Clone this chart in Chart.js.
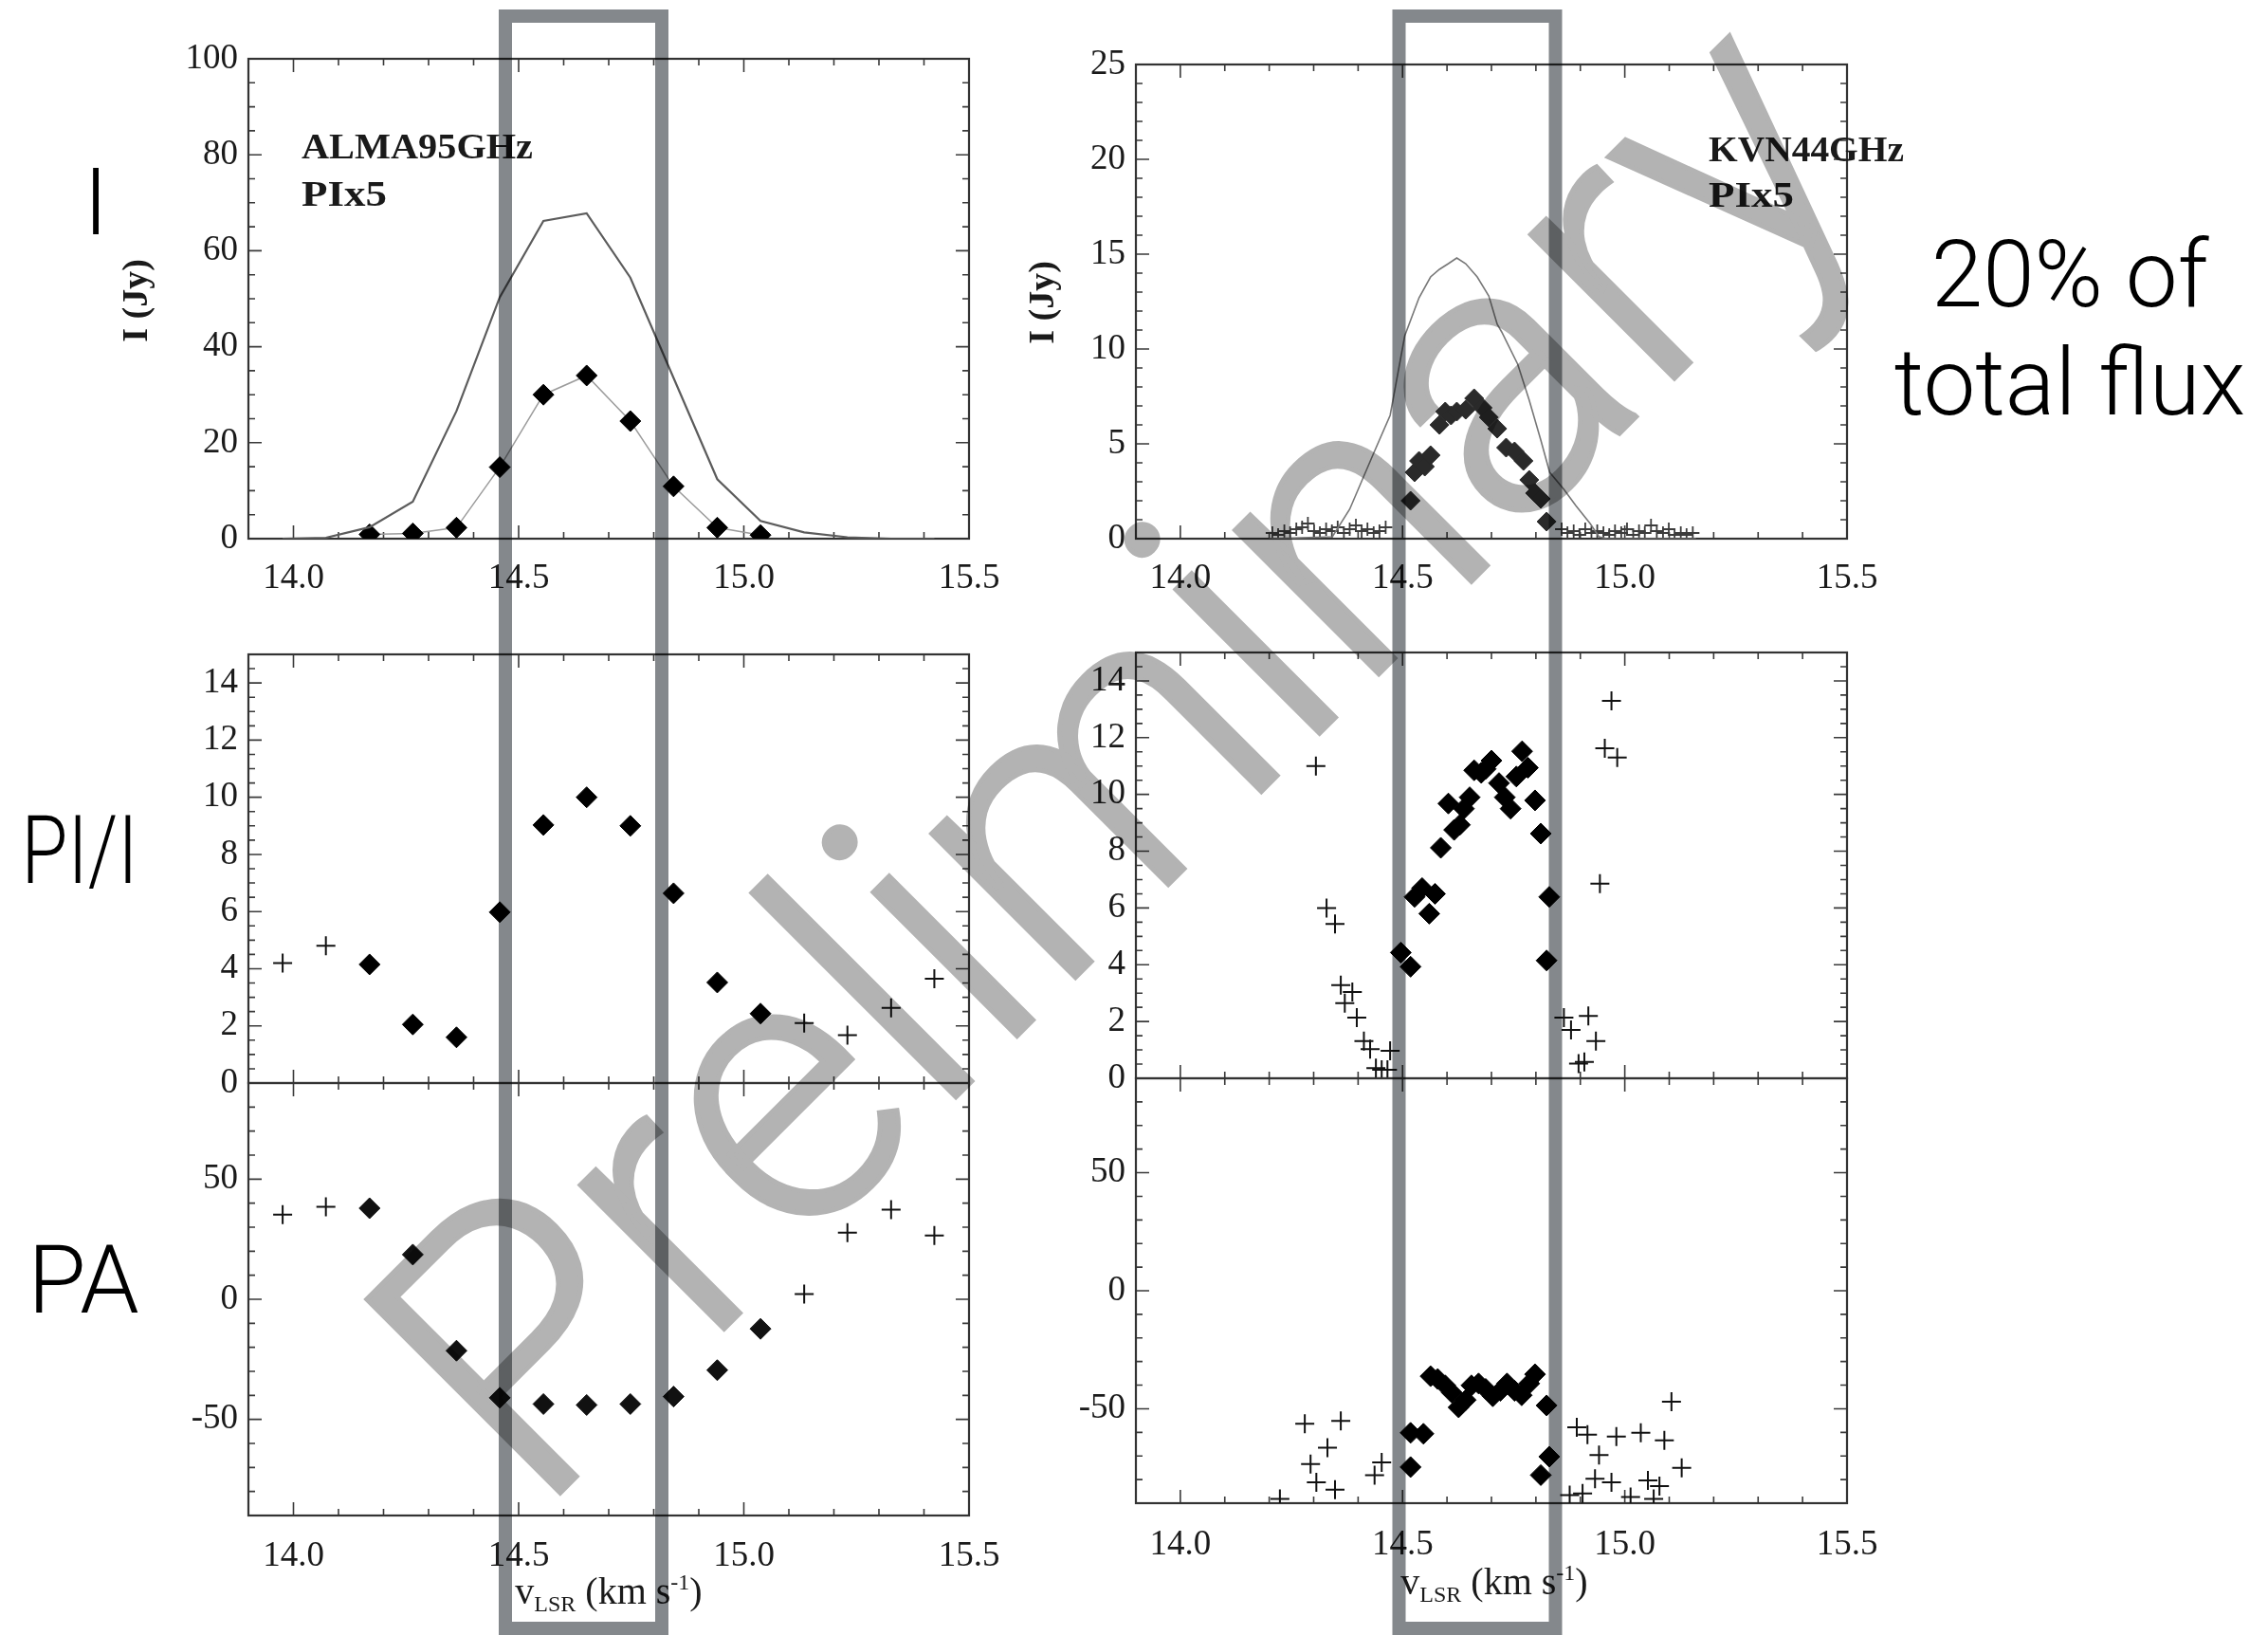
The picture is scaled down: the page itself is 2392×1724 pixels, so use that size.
<!DOCTYPE html>
<html><head><meta charset="utf-8">
<script src="https://cdn.jsdelivr.net/npm/chart.js@4.4.1/dist/chart.umd.min.js"></script>
<style>
html,body{margin:0;padding:0;background:#fff;}
#stage{position:relative;width:2392px;height:1724px;background:#fff;overflow:hidden;isolation:isolate;}
canvas{position:absolute;}
svg.layer{position:absolute;left:0;top:0;}
.blend{mix-blend-mode:multiply;}
</style></head><body>
<div id="stage">
<canvas id="cTL"></canvas>
<canvas id="cTR"></canvas>
<canvas id="cML"></canvas>
<canvas id="cBL"></canvas>
<canvas id="cMR"></canvas>
<canvas id="cBR"></canvas>
<svg class="layer" width="2392" height="1724" font-family="Liberation Serif">
  <text x="101" y="247" text-anchor="middle" font-family="Roboto" font-weight="300" font-size="98">I</text>
  <text x="84" y="931" text-anchor="middle" font-family="Roboto" font-weight="300" font-size="100" textLength="123" lengthAdjust="spacingAndGlyphs">PI/I</text>
  <text x="88" y="1384" text-anchor="middle" font-family="Roboto" font-weight="300" font-size="100">PA</text>
  <text x="2183" y="323" text-anchor="middle" font-family="Roboto" font-weight="300" font-size="98">20% of</text>
  <text x="2183" y="437" text-anchor="middle" font-family="Roboto" font-weight="300" font-size="98">total flux</text>
  <text x="318" y="167" font-weight="bold" font-size="37" fill="#1a1a1a" textLength="244" lengthAdjust="spacingAndGlyphs">ALMA95GHz</text>
  <text x="318" y="217" font-weight="bold" font-size="37" fill="#1a1a1a" textLength="90" lengthAdjust="spacingAndGlyphs">PIx5</text>
  <text x="1802" y="170" font-weight="bold" font-size="37" fill="#1a1a1a" textLength="206" lengthAdjust="spacingAndGlyphs">KVN44GHz</text>
  <text x="1802" y="218" font-weight="bold" font-size="37" fill="#1a1a1a" textLength="90" lengthAdjust="spacingAndGlyphs">PIx5</text>
  <text transform="translate(155,317) rotate(-90)" text-anchor="middle" font-weight="bold" font-size="38" fill="#1a1a1a">I (Jy)</text>
  <text transform="translate(1111,319) rotate(-90)" text-anchor="middle" font-weight="bold" font-size="38" fill="#1a1a1a">I (Jy)</text>
  <text x="642" y="1691" text-anchor="middle" font-size="40" fill="#1a1a1a">v<tspan font-size="24" dy="8">LSR</tspan><tspan dy="-8"> (km s</tspan><tspan font-size="24" dy="-15">-1</tspan><tspan dy="15">)</tspan></text>
  <text x="1576" y="1681" text-anchor="middle" font-size="40" fill="#1a1a1a">v<tspan font-size="24" dy="8">LSR</tspan><tspan dy="-8"> (km s</tspan><tspan font-size="24" dy="-15">-1</tspan><tspan dy="15">)</tspan></text>
</svg>
<svg class="layer blend" width="2392" height="1724">
  <text x="565" y="1600" transform="rotate(-45 565 1600)" font-family="Roboto" font-weight="300" font-size="406" fill="#b3b3b3" stroke="#b3b3b3" stroke-width="5" stroke-linejoin="miter">Preliminary</text>
</svg>
<svg class="layer blend" width="2392" height="1724">
  <rect x="533" y="17" width="165" height="1700" fill="none" stroke="#84888c" stroke-width="14"/>
  <rect x="1475.5" y="17" width="165" height="1700" fill="none" stroke="#84888c" stroke-width="14"/>
</svg>
</div>
<script>
// ---------- tick labels ----------
const xTickValues = [14.0, 14.5, 15.0, 15.5];
const xTickLabels = ['14.0', '14.5', '15.0', '15.5'];
const yTicksI95 = [0, 20, 40, 60, 80, 100];
const yTicksI44 = [0, 5, 10, 15, 20, 25];
const yTicksFrac = [0, 2, 4, 6, 8, 10, 12, 14];
const yTicksPA = [-50, 0, 50];

// ---------- ALMA 95 GHz ----------
const almaV = [13.976, 14.072, 14.169, 14.265, 14.362, 14.458, 14.555, 14.651, 14.748, 14.844, 14.941, 15.037, 15.134, 15.230, 15.327, 15.423];
const almaI = [0.0, 0.2, 2.4, 7.7, 26.6, 50.3, 66.2, 67.8, 54.4, 33.5, 12.4, 3.7, 1.3, 0.3, 0.0, 0.0];
const almaPolV = [14.169, 14.265, 14.362, 14.458, 14.555, 14.651, 14.748, 14.844, 14.941, 15.037];
const almaPIx5 = [0.9, 1.1, 2.3, 14.9, 30.0, 34.0, 24.5, 10.9, 2.3, 0.75];
const almaFracDiamond = [4.15, 2.05, 1.6, 5.98, 9.03, 10.0, 9.0, 6.64, 3.52, 2.43];
const almaPADiamond = [37.9, 18.6, -21.4, -41.0, -43.6, -44.0, -43.6, -40.5, -29.5, -12.3];
const almaLowV = [13.976, 14.072, 15.134, 15.230, 15.327, 15.423];
const almaFracCross = [4.2, 4.8, 2.1, 1.68, 2.63, 3.65];
const almaPACross = [35.2, 38.5, 2.2, 27.7, 37.3, 26.5];

// ---------- KVN 44 GHz ----------
const kvnIV = [14.20, 14.342, 14.381, 14.433, 14.472, 14.505, 14.537, 14.563, 14.583, 14.603, 14.622, 14.642, 14.668, 14.694, 14.713, 14.723, 14.759, 14.785, 14.811, 14.831, 14.863, 14.890, 14.922, 14.942, 14.960, 15.160];
const kvnI = [0.0, 0.1, 1.55, 4.4, 6.5, 10.7, 12.7, 13.8, 14.2, 14.5, 14.8, 14.5, 13.8, 12.8, 11.3, 10.9, 9.2, 7.3, 5.2, 3.5, 2.6, 1.74, 0.8, 0.1, 0.0, 0.0];
const kvnPIx5V = [14.518, 14.527, 14.537, 14.550, 14.563, 14.583, 14.596, 14.609, 14.622, 14.642, 14.661, 14.680, 14.694, 14.713, 14.733, 14.752, 14.772, 14.785, 14.798, 14.811, 14.824];
const kvnPIx5 = [2.0, 3.5, 4.1, 3.8, 4.4, 6.0, 6.7, 6.5, 6.7, 6.8, 7.4, 6.9, 6.4, 5.8, 4.8, 4.6, 4.1, 3.1, 2.4, 2.1, 0.9];
const kvnNoiseV = [14.207, 14.220, 14.234, 14.247, 14.261, 14.274, 14.287, 14.301, 14.314, 14.328, 14.341, 14.354, 14.368, 14.381, 14.395, 14.408, 14.421, 14.435, 14.448, 14.462,
                   14.858, 14.871, 14.885, 14.898, 14.911, 14.925, 14.938, 14.952, 14.965, 14.978, 14.992, 15.005, 15.019, 15.032, 15.045, 15.059, 15.072, 15.086, 15.099, 15.112, 15.126, 15.139, 15.153];
const kvnNoisePIx5 = [0.3, 0.2, 0.4, 0.3, 0.5, 0.6, 0.8, 0.4, 0.3, 0.5, 0.4, 0.6, 0.3, 0.5, 0.7, 0.4, 0.5, 0.3, 0.4, 0.6,
                      0.5, 0.3, 0.4, 0.2, 0.5, 0.3, 0.4, 0.3, 0.2, 0.4, 0.3, 0.5, 0.2, 0.4, 0.3, 0.7, 0.4, 0.3, 0.5, 0.2, 0.3, 0.2, 0.3];
const kvnFracDiamondV = [14.496, 14.518, 14.527, 14.544, 14.560, 14.573, 14.586, 14.603, 14.616, 14.629, 14.638, 14.651, 14.661, 14.677, 14.687, 14.700, 14.717, 14.730, 14.743, 14.756, 14.769, 14.782, 14.798, 14.811, 14.824, 14.830];
const kvnFracDiamond = [4.43, 3.93, 6.39, 6.7, 5.8, 6.5, 8.12, 9.68, 8.75, 8.93, 9.5, 9.9, 10.85, 10.76, 10.9, 11.19, 10.4, 9.9, 9.5, 10.63, 11.52, 10.94, 9.79, 8.62, 4.15, 6.39];
const kvnFracCrossV = [14.305, 14.329, 14.348, 14.361, 14.370, 14.387, 14.397, 14.413, 14.427, 14.440, 14.453, 14.466, 14.472, 14.863, 14.879, 14.896, 14.909, 14.918, 14.935, 14.944, 14.955, 14.970, 14.983];
const kvnFracCross = [11.0, 6.0, 5.44, 3.28, 2.65, 3.04, 2.14, 1.31, 1.03, 0.36, 0.3, 0.3, 0.97, 2.14, 1.7, 0.52, 0.58, 2.2, 1.31, 6.86, 11.63, 13.3, 11.3];
const kvnPADiamondV = [14.518, 14.547, 14.518, 14.563, 14.579, 14.596, 14.611, 14.626, 14.642, 14.655, 14.671, 14.687, 14.703, 14.720, 14.735, 14.752, 14.768, 14.785, 14.798, 14.811, 14.824, 14.830];
const kvnPADiamond = [-60.2, -60.6, -74.7, -36.2, -37.4, -40.1, -43.2, -49.4, -46.3, -40.1, -39.3, -41.6, -44.7, -42.4, -39.3, -42.4, -44.3, -39.3, -35.4, -78.1, -48.6, -70.3];
const kvnPACrossV = [14.224, 14.280, 14.293, 14.306, 14.331, 14.348, 14.361, 14.437, 14.453, 14.876, 14.892, 14.905, 14.916, 14.933, 14.942, 14.970, 14.981, 15.013, 15.036, 15.052, 15.065, 15.078, 15.089, 15.105, 15.128];
const kvnPACross = [-88.2, -56.4, -73.4, -81.2, -66.5, -84.3, -55.1, -78.1, -72.7, -86.6, -57.9, -85.9, -61.0, -79.7, -69.6, -81.2, -61.8, -87.4, -60.2, -80.4, -88.2, -82.8, -63.4, -47.0, -75.0];

// ---------- helpers ----------
const zip = (xs, ys) => xs.map((v, i) => ({x: v, y: ys[i]}));
const tickFont = {family: 'Liberation Serif', size: 37};
const tickColor = '#1a1a1a';

const idlBox = {
  id: 'idlBox',
  beforeDatasetsDraw(chart, args, o) {
    const {ctx, chartArea: a} = chart;
    const xs = chart.scales.x, ys = chart.scales.y;
    ctx.save();
    ctx.strokeStyle = '#3a3a3a';
    ctx.lineWidth = 1.6;
    ctx.beginPath();
    const steps = (min, max, step) => {
      const out = [];
      for (let k = Math.ceil(min / step - 1e-6); k * step <= max + 1e-6; k++) out.push(k * step);
      return out;
    };
    const xTick = (v, len) => {
      const p = xs.getPixelForValue(v);
      ctx.moveTo(p, a.bottom); ctx.lineTo(p, a.bottom - len);
      ctx.moveTo(p, a.top); ctx.lineTo(p, a.top + len);
    };
    const yTick = (v, len) => {
      const p = ys.getPixelForValue(v);
      ctx.moveTo(a.left, p); ctx.lineTo(a.left + len, p);
      ctx.moveTo(a.right, p); ctx.lineTo(a.right - len, p);
    };
    steps(xs.min, xs.max, 0.1).forEach(v => xTick(v, 7));
    xTickValues.forEach(v => xTick(v, 14));
    steps(ys.min, ys.max, o.yMinor).forEach(v => yTick(v, 7));
    o.yMajor.forEach(v => yTick(v, 14));
    ctx.stroke();
    ctx.lineWidth = 2.2;
    ctx.strokeStyle = '#333';
    ctx.strokeRect(a.left, a.top, a.right - a.left, a.bottom - a.top);
    ctx.restore();
  }
};

function makePanel(id, area, p) {
  const cv = document.getElementById(id);
  const padL = 40, yW = 120, padT = 40, padR = 60, padB = 90, xH = 80;
  const left = area.L - padL - yW, top = area.T - padT;
  const w = (area.R - area.L) + padL + yW + padR;
  const h = (area.B - area.T) + padT + padB;
  cv.style.left = left + 'px'; cv.style.top = top + 'px';
  cv.width = w; cv.height = h;
  cv.style.width = w + 'px'; cv.style.height = h + 'px';
  return new Chart(cv, {
    type: 'scatter',
    data: {datasets: p.datasets},
    plugins: [idlBox],
    options: {
      responsive: false, animation: false, devicePixelRatio: 1,
      layout: {padding: {left: padL, top: padT, right: padR, bottom: p.showX ? padB - xH : padB}},
      plugins: {legend: {display: false}, tooltip: {enabled: false}, idlBox: {yMinor: p.yMinor, yMajor: p.yTicks}},
      scales: {
        x: {
          type: 'linear', min: 13.9, max: 15.5, display: p.showX,
          grid: {display: false, drawTicks: false}, border: {display: false},
          afterBuildTicks: s => { s.ticks = xTickValues.map(v => ({value: v})); },
          afterFit: s => { if (p.showX) s.height = xH; },
          ticks: {autoSkip: false, maxRotation: 0, minRotation: 0, padding: p.xPad || 20, font: tickFont, color: tickColor,
                  callback: (v, i) => xTickLabels[i]}
        },
        y: {
          type: 'linear', min: p.ymin, max: p.ymax,
          grid: {display: false, drawTicks: false}, border: {display: false},
          afterBuildTicks: s => { s.ticks = p.yTicks.map(v => ({value: v})); },
          afterFit: s => { s.width = yW; },
          ticks: {autoSkip: false, padding: 11, font: tickFont, color: tickColor,
                  callback: (v, i) => String(p.yTicks[i])}
        }
      }
    }
  });
}

const lineDS = (data, color, width) => ({data, showLine: true, borderColor: color, borderWidth: width, pointRadius: 0, tension: 0});
const diamondDS = (data, color, r) => ({data, showLine: false, pointStyle: 'rectRot', pointRadius: r, pointBackgroundColor: color, pointBorderColor: color, pointBorderWidth: 1});
const crossDS = (data, color, r, w) => ({data, showLine: false, pointStyle: 'cross', pointRadius: r, pointBorderColor: color, pointBorderWidth: w});

makePanel('cTL', {L: 262, T: 62, R: 1022, B: 568}, {
  showX: true, ymin: 0, ymax: 100, yTicks: yTicksI95, yMinor: 5,
  datasets: [
    lineDS(zip(almaV, almaI), '#5c5c5c', 2.2),
    Object.assign(diamondDS(zip(almaPolV, almaPIx5), '#000', 11), {showLine: true, borderColor: '#9c9c9c', borderWidth: 1.5})
  ]
});
makePanel('cTR', {L: 1198, T: 68, R: 1948, B: 568}, {
  showX: true, ymin: 0, ymax: 25, yTicks: yTicksI44, yMinor: 1,
  datasets: [
    lineDS(zip(kvnIV, kvnI), '#777', 1.6),
    crossDS(zip(kvnNoiseV, kvnNoisePIx5), '#3c3c3c', 7, 1.8),
    diamondDS(zip(kvnPIx5V, kvnPIx5), '#2a2a2a', 10)
  ]
});
makePanel('cML', {L: 262, T: 690, R: 1022, B: 1142}, {
  showX: false, ymin: 0, ymax: 15, yTicks: yTicksFrac, yMinor: 0.5,
  datasets: [
    crossDS(zip(almaLowV, almaFracCross), '#111', 10, 2),
    diamondDS(zip(almaPolV, almaFracDiamond), '#000', 11)
  ]
});
makePanel('cBL', {L: 262, T: 1142, R: 1022, B: 1598}, {
  showX: true, ymin: -90, ymax: 90, yTicks: yTicksPA, yMinor: 10, xPad: 21,
  datasets: [
    crossDS(zip(almaLowV, almaPACross), '#111', 10, 2),
    diamondDS(zip(almaPolV, almaPADiamond), '#111', 11)
  ]
});
makePanel('cMR', {L: 1198, T: 688, R: 1948, B: 1137}, {
  showX: false, ymin: 0, ymax: 15, yTicks: yTicksFrac, yMinor: 0.5,
  datasets: [
    crossDS(zip(kvnFracCrossV, kvnFracCross), '#111', 10, 2),
    diamondDS(zip(kvnFracDiamondV, kvnFracDiamond), '#000', 11)
  ]
});
makePanel('cBR', {L: 1198, T: 1137, R: 1948, B: 1585}, {
  showX: true, ymin: -90, ymax: 90, yTicks: yTicksPA, yMinor: 10, xPad: 22,
  datasets: [
    crossDS(zip(kvnPACrossV, kvnPACross), '#111', 10, 2),
    diamondDS(zip(kvnPADiamondV, kvnPADiamond), '#000', 11)
  ]
});
</script>
</body></html>
